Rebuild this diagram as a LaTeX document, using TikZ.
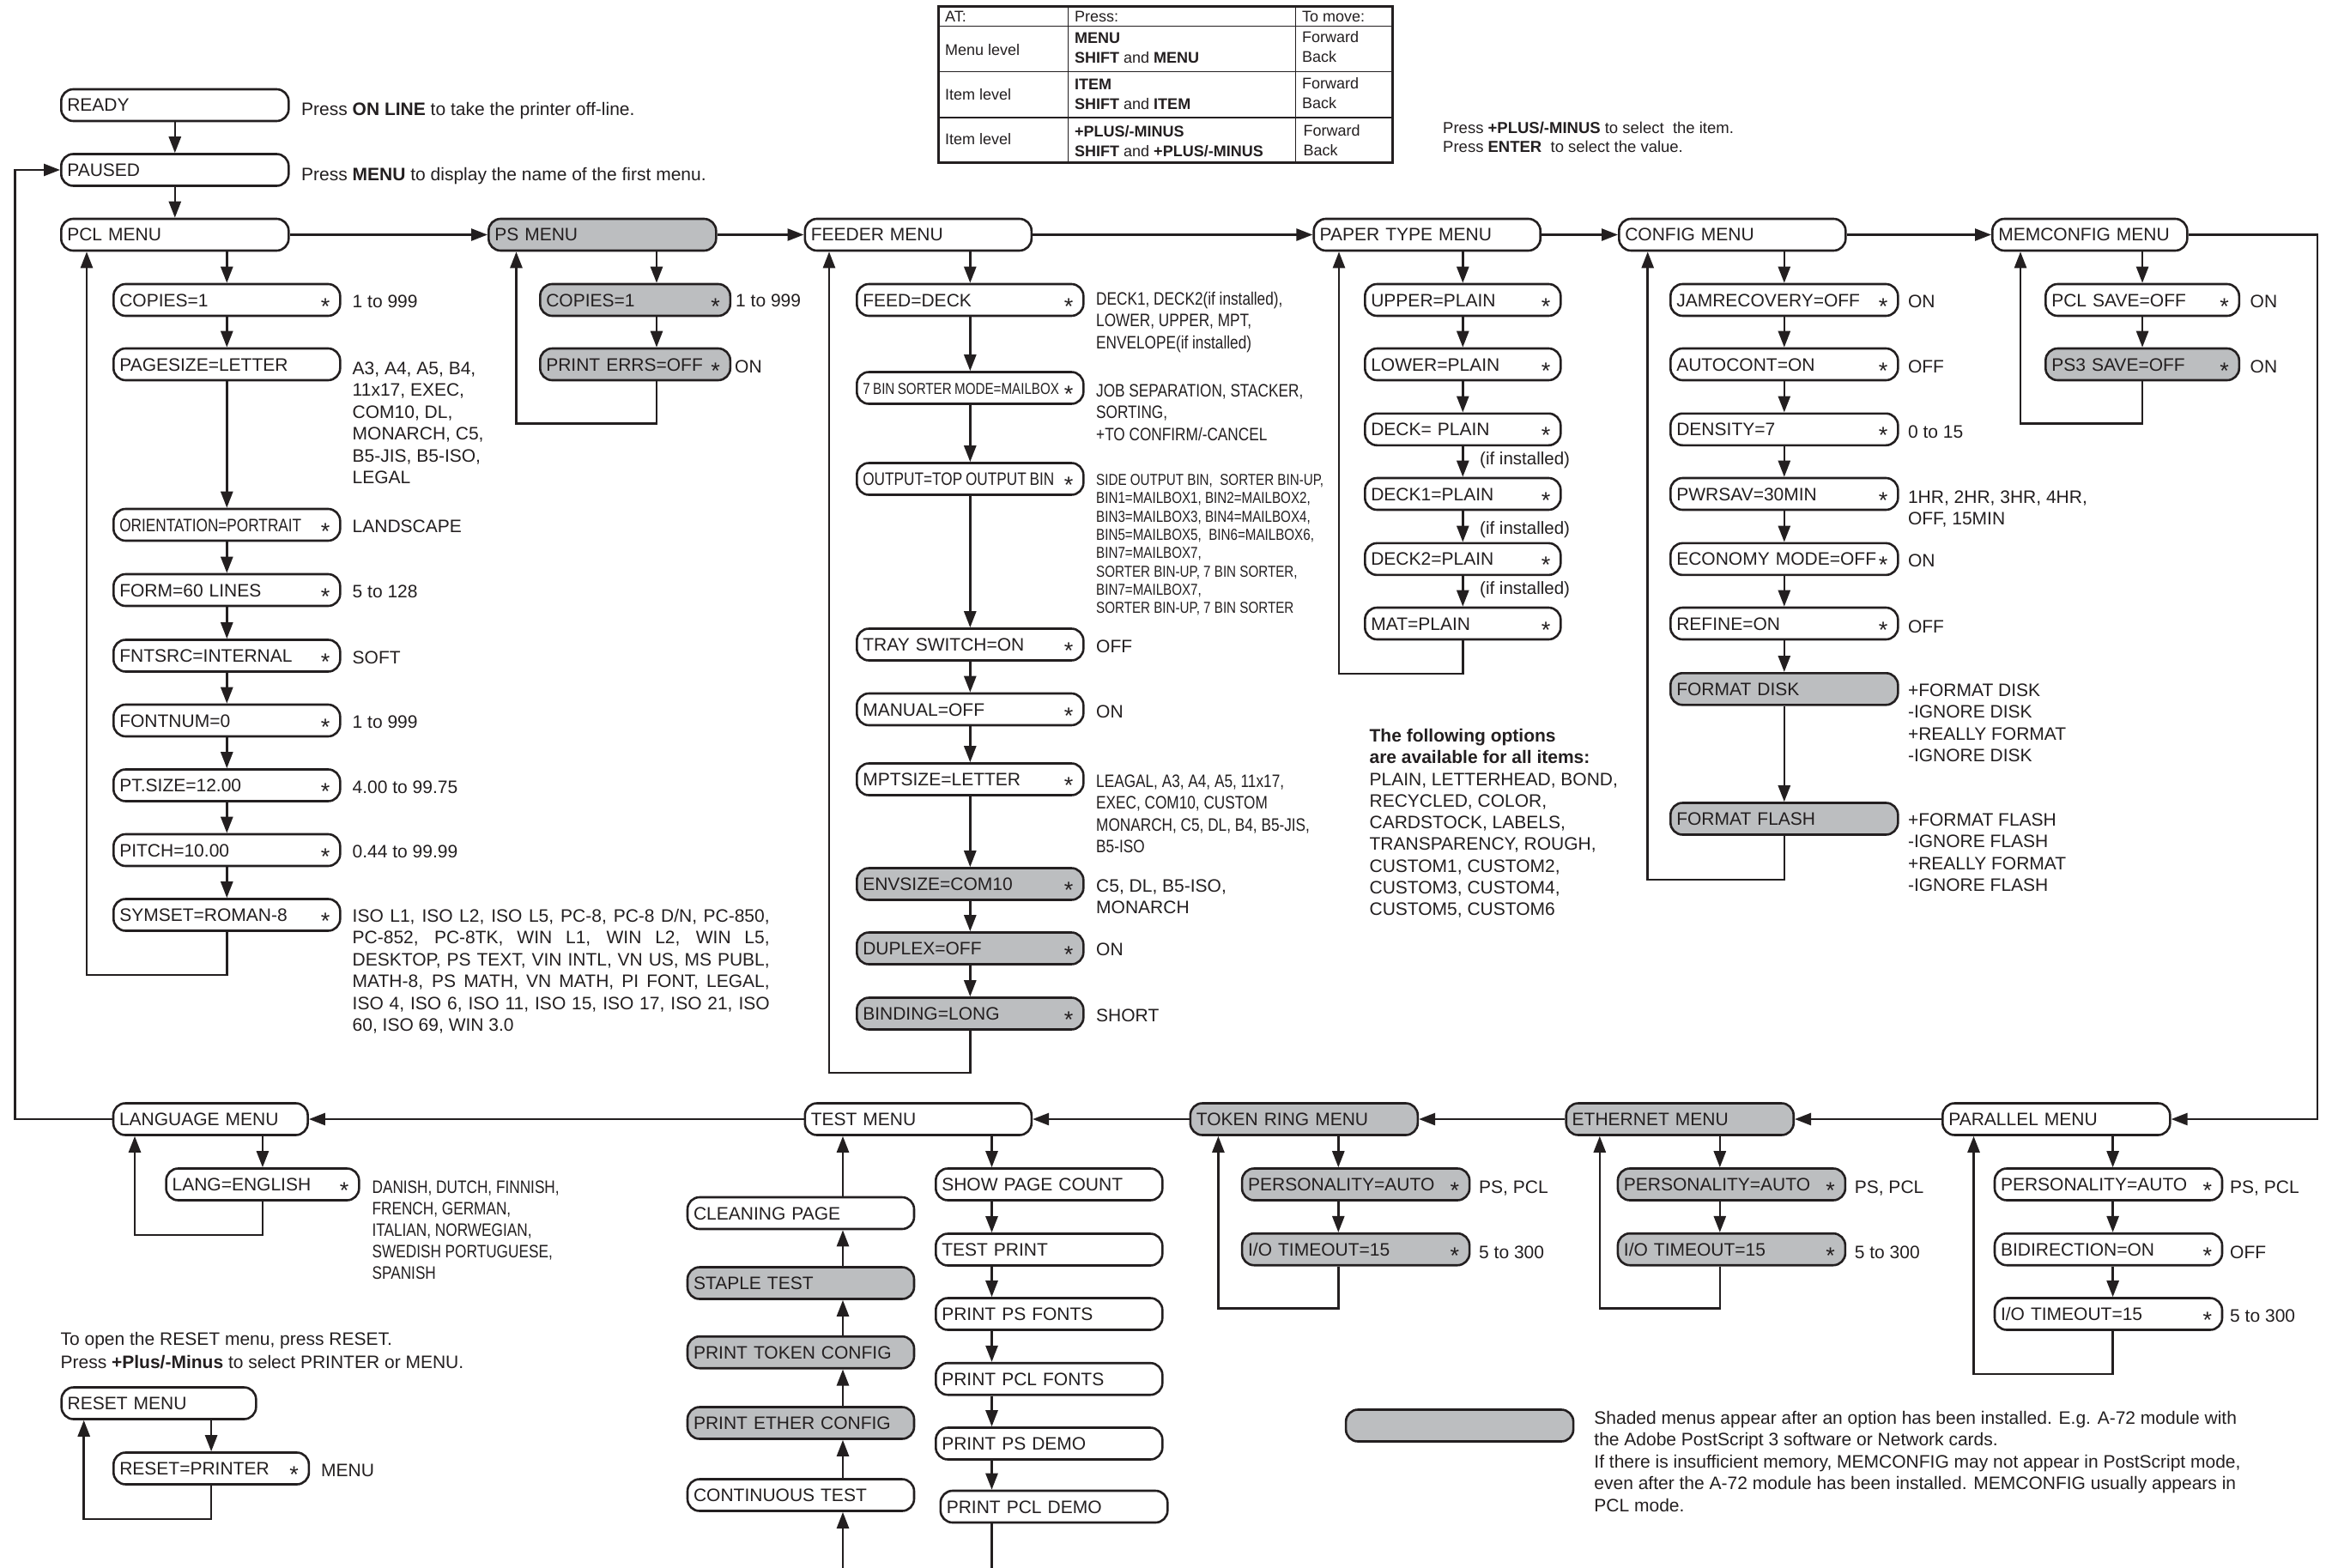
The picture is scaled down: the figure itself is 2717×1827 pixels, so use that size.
\documentclass[tikz,border=0pt]{standalone}
\usepackage{fontspec}
\setmainfont{Liberation Sans}
\newfontfamily\cond[FakeStretch=0.82]{Liberation Sans}
\usetikzlibrary{arrows.meta}
\definecolor{ink}{RGB}{35,31,32}
\definecolor{shade}{RGB}{188,190,192}
\newcommand\lab{\fontsize{21}{25.4}\selectfont}
\newcommand\wst[1]{\makebox[\linewidth][s]{#1\hfill\raisebox{-9pt}{\fontsize{27}{27}\selectfont *}\hspace{5pt}}}
\tikzset{
  mb/.style={draw=ink, line width=2.6pt, rounded corners=14pt, fill=white, anchor=west,
    minimum height=37pt, inner xsep=7pt, inner ysep=0pt, text height=15pt, text depth=0pt,
    align=left, text width=#1, font=\lab, text=ink},
  gb/.style={mb=#1, fill=shade},
  ln/.style={draw=ink, line width=2.6pt},
  arr/.style={ln, -{Triangle[length=19pt,width=14pt]}},
  dsc/.style={anchor=base west, inner sep=0pt, align=left, font=\lab, text=ink},
  cdsc/.style={dsc, font=\cond\lab},
  sdsc/.style={dsc, font=\cond\fontsize{18.5}{21.3}\selectfont},
  tdsc/.style={dsc, font=\fontsize{18}{23.5}\selectfont},
}
\begin{document}
\begin{tikzpicture}[x=1pt,y=-1pt]
\fill[white] (0,0) rectangle (2717,1827);
\useasboundingbox (0,0) rectangle (2717,1827);

% (multi-line text nodes are placed by the baseline of their LAST line)

% ---------- table ----------
\draw[draw=ink, line width=1.6pt] (1093,30.6) -- (1622.7,30.6)
  (1093,83.5) -- (1622.7,83.5) (1093,137) -- (1622.7,137)
  (1244.6,8) -- (1244.6,190) (1509.6,8) -- (1509.6,190);
\draw[draw=ink, line width=3pt] (1093,8) rectangle (1622.7,190);
\node[tdsc] (tat) at (1101,26) {AT:};
\node[tdsc] (tml) at (1101,64.4) {Menu level};
\node[tdsc] (til1) at (1101,116.4) {Item level};
\node[tdsc] (til2) at (1101,168.4) {Item level};
\node[tdsc] (tpress) at (1252,26) {Press:};
\node[tdsc] (tp1) at (1252,73.9) {\textbf{MENU}\\\textbf{SHIFT} and \textbf{MENU}};
\node[tdsc] (tp2) at (1252,127.9) {\textbf{ITEM}\\\textbf{SHIFT} and \textbf{ITEM}};
\node[tdsc] (tp3) at (1252,182.9) {\textbf{+PLUS/-MINUS}\\\textbf{SHIFT} and \textbf{+PLUS/-MINUS}};
\node[tdsc] (tmove) at (1517,26) {To move:};
\node[tdsc] (tm1) at (1517,72.9) {Forward\\Back};
\node[tdsc] (tm2) at (1517,126.9) {Forward\\Back};
\node[tdsc] (tm3) at (1518.5,181.9) {Forward\\Back};
\node[dsc, font=\fontsize{18.5}{21.6}\selectfont] (tplus) at (1681,177.2)
  {Press \textbf{+PLUS/-MINUS} to select\ \ the item.\\Press \textbf{ENTER}\ \ to select the value.};

% ---------- top row ----------
\node[mb=251pt] (ready) at (70,122.5) {READY};
\node[mb=251pt] (paused) at (70,198) {PAUSED};
\node[mb=251pt] (pcl) at (70,273.5) {PCL MENU};
\node[gb=251pt] (ps) at (568,273.5) {PS MENU};
\node[mb=250pt] (feeder) at (936.5,273.5) {FEEDER MENU};
\node[mb=250pt] (paper) at (1529.4,273.5) {PAPER TYPE MENU};
\node[mb=250pt] (config) at (1885,273.5) {CONFIG MENU};
\node[mb=213pt] (memconfig) at (2320,273.5) {MEMCONFIG MENU};
\node[dsc] (tready) at (351,135) {Press \textbf{ON LINE} to take the printer off-line.};
\node[dsc] (tpaused) at (351,210.5) {Press \textbf{MENU} to display the name of the first menu.};

% ---------- PCL ----------
\node[mb=250pt] (copies) at (131,349.5) {\wst{COPIES=1}};
\node[mb=250pt] (pagesize) at (131,424.5) {PAGESIZE=LETTER};
\node[mb=250pt] (orient) at (131,611.5) {\wst{{\cond ORIENTATION=PORTRAIT}}};
\node[mb=250pt] (form) at (131,687.5) {\wst{FORM=60 LINES}};
\node[mb=250pt] (fntsrc) at (131,764) {\wst{FNTSRC=INTERNAL}};
\node[mb=250pt] (fontnum) at (131,839.5) {\wst{FONTNUM=0}};
\node[mb=250pt] (ptsize) at (131,915) {\wst{PT.SIZE=12.00}};
\node[mb=250pt] (pitch) at (131,990.5) {\wst{PITCH=10.00}};
\node[mb=250pt] (symset) at (131,1066) {\wst{SYMSET=ROMAN-8}};
\node[dsc] (dcopies) at (410.5,358.5) {1 to 999};
\node[dsc] (dpagesize) at (410.5,563.5) {A3, A4, A5, B4,\\11x17, EXEC,\\COM10, DL,\\MONARCH, C5,\\B5-JIS, B5-ISO,\\LEGAL};
\node[dsc] (dorient) at (410.5,620) {LANDSCAPE};
\node[dsc] (dform) at (410.5,696.5) {5 to 128};
\node[dsc] (dfntsrc) at (410.5,773) {SOFT};
\node[dsc] (dfontnum) at (410.5,848.5) {1 to 999};
\node[dsc] (dptsize) at (410.5,924) {4.00 to 99.75};
\node[dsc] (dpitch) at (410.5,999.5) {0.44 to 99.99};
\node[dsc] (dsymset) at (410.5,1201.5) {%
\makebox[486pt][s]{ISO L1, ISO L2, ISO L5, PC-8, PC-8 D/N, PC-850,}\\
\makebox[486pt][s]{PC-852, PC-8TK, WIN L1, WIN L2, WIN L5,}\\
\makebox[486pt][s]{DESKTOP, PS TEXT, VIN INTL, VN US, MS PUBL,}\\
\makebox[486pt][s]{MATH-8, PS MATH, VN MATH, PI FONT, LEGAL,}\\
\makebox[486pt][s]{ISO 4, ISO 6, ISO 11, ISO 15, ISO 17, ISO 21, ISO}\\
60, ISO 69, WIN 3.0};

% ---------- PS ----------
\node[gb=207.5pt] (pscopies) at (628,349.5) {\wst{COPIES=1}};
\node[gb=207.5pt] (pserrs) at (628,424.5) {\wst{PRINT ERRS=OFF}};
\node[dsc] (dpscopies) at (857,357.5) {1 to 999};
\node[dsc] (dpserrs) at (856,434) {ON};

% ---------- FEEDER ----------
\node[mb=250pt] (feed) at (997,349.5) {\wst{FEED=DECK}};
\node[mb=250pt] (sorter) at (997,452) {\wst{{\cond\fontsize{18.5}{22}\selectfont\spaceskip=3.4pt\relax 7 BIN SORTER MODE=MAILBOX}}};
\node[mb=250pt] (output) at (997,558) {\wst{{\cond\spaceskip=3.8pt\relax OUTPUT=TOP OUTPUT BIN}}};
\node[mb=250pt] (tray) at (997,751) {\wst{TRAY SWITCH=ON}};
\node[mb=250pt] (manual) at (997,826.5) {\wst{MANUAL=OFF}};
\node[mb=250pt] (mpt) at (997,908) {\wst{MPTSIZE=LETTER}};
\node[gb=250pt] (env) at (997,1030) {\wst{ENVSIZE=COM10}};
\node[gb=250pt] (duplex) at (997,1105) {\wst{DUPLEX=OFF}};
\node[gb=250pt] (binding) at (997,1181) {\wst{BINDING=LONG}};
\node[cdsc] (dfeed) at (1277,406.3) {DECK1, DECK2(if installed),\\LOWER, UPPER, MPT,\\ENVELOPE(if installed)};
\node[cdsc] (dsorter) at (1277,513.3) {JOB SEPARATION, STACKER,\\SORTING,\\+TO CONFIRM/-CANCEL};
\node[sdsc] (doutput) at (1277,714.7) {SIDE OUTPUT BIN,\ \ SORTER BIN-UP,\\BIN1=MAILBOX1, BIN2=MAILBOX2,\\BIN3=MAILBOX3, BIN4=MAILBOX4,\\BIN5=MAILBOX5,\ \ BIN6=MAILBOX6,\\BIN7=MAILBOX7,\\SORTER BIN-UP, 7 BIN SORTER,\\BIN7=MAILBOX7,\\SORTER BIN-UP, 7 BIN SORTER};
\node[dsc] (dtray) at (1277,760.5) {OFF};
\node[dsc] (dmanual) at (1277,836.5) {ON};
\node[cdsc] (dmpt) at (1277,993.7) {LEAGAL, A3, A4, A5, 11x17,\\EXEC, COM10, CUSTOM\\MONARCH, C5, DL, B4, B5-JIS,\\B5-ISO};
\node[dsc] (denv) at (1277,1064.4) {C5, DL, B5-ISO,\\MONARCH};
\node[dsc] (dduplex) at (1277,1113.5) {ON};
\node[dsc] (dbinding) at (1277,1190) {SHORT};

% ---------- PAPER TYPE ----------
\node[mb=214pt] (upper) at (1589,349.5) {\wst{UPPER=PLAIN}};
\node[mb=214pt] (lower) at (1589,424.5) {\wst{LOWER=PLAIN}};
\node[mb=214pt] (deck) at (1589,500.3) {\wst{DECK= PLAIN}};
\node[mb=214pt] (deckone) at (1589,575.5) {\wst{DECK1=PLAIN}};
\node[mb=214pt] (decktwo) at (1589,651.4) {\wst{DECK2=PLAIN}};
\node[mb=214pt] (mat) at (1589,726.5) {\wst{MAT=PLAIN}};
\node[dsc, font=\fontsize{20.5}{24}\selectfont] (ifa) at (1724,541) {(if installed)};
\node[dsc, font=\fontsize{20.5}{24}\selectfont] (ifb) at (1724,622.5) {(if installed)};
\node[dsc, font=\fontsize{20.5}{24}\selectfont] (ifc) at (1724,692) {(if installed)};
\node[dsc, font=\fontsize{21}{25.25}\selectfont] (opts) at (1595.4,1066.5) {\textbf{The following options}\\\textbf{are available for all items:}\\PLAIN, LETTERHEAD, BOND,\\RECYCLED, COLOR,\\CARDSTOCK, LABELS,\\TRANSPARENCY, ROUGH,\\CUSTOM1, CUSTOM2,\\CUSTOM3, CUSTOM4,\\CUSTOM5, CUSTOM6};

% ---------- CONFIG ----------
\node[mb=251pt] (jam) at (1945,349.5) {\wst{JAMRECOVERY=OFF}};
\node[mb=251pt] (autocont) at (1945,424.5) {\wst{AUTOCONT=ON}};
\node[mb=251pt] (density) at (1945,500.3) {\wst{DENSITY=7}};
\node[mb=251pt] (pwrsav) at (1945,575.5) {\wst{PWRSAV=30MIN}};
\node[mb=251pt] (economy) at (1945,651.4) {\wst{ECONOMY MODE=OFF}};
\node[mb=251pt] (refine) at (1945,726.5) {\wst{REFINE=ON}};
\node[gb=251pt] (fdisk) at (1945,802.8) {FORMAT DISK};
\node[gb=251pt] (fflash) at (1945,954) {FORMAT FLASH};
\node[dsc] (djam) at (2222.8,358.5) {ON};
\node[dsc] (dauto) at (2222.8,434) {OFF};
\node[dsc] (ddensity) at (2222.8,510.5) {0 to 15};
\node[dsc] (dpwrsav) at (2222.8,611.4) {1HR, 2HR, 3HR, 4HR,\\OFF, 15MIN};
\node[dsc] (deconomy) at (2222.8,660.5) {ON};
\node[dsc] (drefine) at (2222.8,737) {OFF};
\node[dsc] (dfdisk) at (2222.8,887.7) {+FORMAT DISK\\-IGNORE DISK\\+REALLY FORMAT\\-IGNORE DISK};
\node[dsc] (dfflash) at (2222.8,1038.7) {+FORMAT FLASH\\-IGNORE FLASH\\+REALLY FORMAT\\-IGNORE FLASH};

% ---------- MEMCONFIG ----------
\node[mb=211.5pt] (pclsave) at (2382,349.5) {\wst{PCL SAVE=OFF}};
\node[gb=211.5pt] (ps3save) at (2382,424.5) {\wst{PS3 SAVE=OFF}};
\node[dsc] (dpclsave) at (2621.5,358.5) {ON};
\node[dsc] (dps3save) at (2621.5,434) {ON};

% ---------- bottom row ----------
\node[mb=212.6pt] (language) at (130.7,1304) {LANGUAGE MENU};
\node[mb=250pt] (test) at (936.5,1304) {TEST MENU};
\node[gb=251pt] (token) at (1385.5,1304) {TOKEN RING MENU};
\node[gb=251pt] (ethernet) at (1823.4,1304) {ETHERNET MENU};
\node[mb=251pt] (parallel) at (2262,1304) {PARALLEL MENU};

\node[mb=210.7pt] (langeng) at (192.3,1380) {\wst{LANG=ENGLISH}};
\node[dsc, font=\cond\fontsize{21}{25.1}\selectfont] (dlang) at (433.4,1490.9) {DANISH, DUTCH, FINNISH,\\FRENCH, GERMAN,\\ITALIAN, NORWEGIAN,\\SWEDISH PORTUGUESE,\\SPANISH};

\node[mb=250pt] (cleaning) at (799.7,1413.5) {CLEANING PAGE};
\node[gb=250pt] (staple) at (799.7,1495) {STAPLE TEST};
\node[gb=250pt] (ptoken) at (799.7,1575.7) {PRINT TOKEN CONFIG};
\node[gb=250pt] (pether) at (799.7,1658) {PRINT ETHER CONFIG};
\node[mb=250pt] (contin) at (799.7,1742) {CONTINUOUS TEST};
\node[mb=250pt] (spc) at (1089,1380) {SHOW PAGE COUNT};
\node[mb=250pt] (tprint) at (1089,1456) {TEST PRINT};
\node[mb=250pt] (psfonts) at (1089,1531) {PRINT PS FONTS};
\node[mb=250pt] (pclfonts) at (1089,1606.7) {PRINT PCL FONTS};
\node[mb=250pt] (psdemo) at (1089,1682) {PRINT PS DEMO};
\node[mb=250.5pt] (pcldemo) at (1094.5,1755.5) {PRINT PCL DEMO};

\node[gb=251pt] (tpers) at (1445.8,1380) {\wst{PERSONALITY=AUTO}};
\node[gb=251pt] (tio) at (1445.8,1455.7) {\wst{I/O TIMEOUT=15}};
\node[dsc] (dtpers) at (1723,1390.5) {PS, PCL};
\node[dsc] (dtio) at (1723,1466.5) {5 to 300};

\node[gb=251pt] (epers) at (1883.6,1380) {\wst{PERSONALITY=AUTO}};
\node[gb=251pt] (eio) at (1883.6,1455.7) {\wst{I/O TIMEOUT=15}};
\node[dsc] (depers) at (2160.6,1390.5) {PS, PCL};
\node[dsc] (deio) at (2160.6,1466.5) {5 to 300};

\node[mb=251pt] (ppers) at (2322.7,1380) {\wst{PERSONALITY=AUTO}};
\node[mb=251pt] (pbidi) at (2322.7,1455.7) {\wst{BIDIRECTION=ON}};
\node[mb=251pt] (pio) at (2322.7,1531) {\wst{I/O TIMEOUT=15}};
\node[dsc] (dppers) at (2598,1390.5) {PS, PCL};
\node[dsc] (dpbidi) at (2598,1466.5) {OFF};
\node[dsc] (dpio) at (2598,1540.5) {5 to 300};

% ---------- reset ----------
\node[dsc, font=\fontsize{21}{26.6}\selectfont] (treset) at (70.4,1594.1) {To open the RESET menu, press RESET.\\Press \textbf{+Plus/-Minus} to select PRINTER or MENU.};
\node[mb=212.6pt] (resetmenu) at (70.4,1635) {RESET MENU};
\node[mb=213.6pt] (resetp) at (131,1711) {\wst{RESET=PRINTER}};
\node[dsc] (dresetp) at (374,1720) {MENU};

% ---------- legend ----------
\node[gb=251pt] (legend) at (1566.8,1661) {};
\node[dsc] (tlegend) at (1857.2,1761.1) {Shaded menus appear after an option has been installed. E.g. A-72 module with\\the Adobe PostScript 3 software or Network cards.\\If there is insufficient memory, MEMCONFIG may not appear in PostScript mode,\\even after the A-72 module has been installed. MEMCONFIG usually appears in\\PCL mode.};

% ================= connectors =================
\draw[arr] (ready) -- (paused);
\draw[arr] (paused) -- (pcl);
\draw[arr] (pcl) -- (ps);
\draw[arr] (ps) -- (feeder);
\draw[arr] (feeder) -- (paper);
\draw[arr] (paper) -- (config);
\draw[arr] (config) -- (memconfig);
\draw[arr] (memconfig.east) -- (memconfig.east -| 2700,0) |- (parallel.east);
\draw[arr] (parallel) -- (ethernet);
\draw[arr] (ethernet) -- (token);
\draw[arr] (token) -- (test);
\draw[arr] (test) -- (language);
\draw[arr] (language.west) -- (language.west -| 17.6,0) |- (paused.west);

% PCL
\draw[arr] (copies.north |- pcl.south) -- (copies.north);
\draw[arr] (copies) -- (pagesize);
\draw[arr] (pagesize) -- (orient);
\draw[arr] (orient) -- (form);
\draw[arr] (form) -- (fntsrc);
\draw[arr] (fntsrc) -- (fontnum);
\draw[arr] (fontnum) -- (ptsize);
\draw[arr] (ptsize) -- (pitch);
\draw[arr] (pitch) -- (symset);
\draw[arr] (symset.south) -- ++(0,50) -| (pcl.south -| 101,0);

% PS
\draw[arr] (ps.south -| 765,0) -- (pscopies.north -| 765,0);
\draw[arr] (pscopies.south -| 765,0) -- (pserrs.north -| 765,0);
\draw[arr] (pserrs.south -| 765,0) -- ++(0,49) -| (ps.south -| 601.5,0);

% FEEDER
\draw[arr] (feed.north |- feeder.south) -- (feed.north);
\draw[arr] (feed) -- (sorter);
\draw[arr] (sorter) -- (output);
\draw[arr] (output) -- (tray);
\draw[arr] (tray) -- (manual);
\draw[arr] (manual) -- (mpt);
\draw[arr] (mpt) -- (env);
\draw[arr] (env) -- (duplex);
\draw[arr] (duplex) -- (binding);
\draw[arr] (binding.south) -- ++(0,49) -| (feeder.south -| 966,0);

% PAPER
\draw[arr] (upper.north |- paper.south) -- (upper.north);
\draw[arr] (upper) -- (lower);
\draw[arr] (lower) -- (deck);
\draw[arr] (deck) -- (deckone);
\draw[arr] (deckone) -- (decktwo);
\draw[arr] (decktwo) -- (mat);
\draw[arr] (mat.south) -- ++(0,38.5) -| (paper.south -| 1560,0);

% CONFIG
\draw[arr] (jam.north |- config.south) -- (jam.north);
\draw[arr] (jam) -- (autocont);
\draw[arr] (autocont) -- (density);
\draw[arr] (density) -- (pwrsav);
\draw[arr] (pwrsav) -- (economy);
\draw[arr] (economy) -- (refine);
\draw[arr] (refine) -- (fdisk);
\draw[arr] (fdisk) -- (fflash);
\draw[arr] (fflash.south) -- ++(0,51) -| (config.south -| 1919.7,0);

% MEMCONFIG
\draw[arr] (pclsave.north |- memconfig.south) -- (pclsave.north);
\draw[arr] (pclsave) -- (ps3save);
\draw[arr] (ps3save.south) -- ++(0,49) -| (memconfig.south -| 2354,0);

% LANGUAGE
\draw[arr] (langeng.north |- language.south) -- (langeng.north);
\draw[arr] (langeng.south) -- ++(0,39) -| (language.south -| 157,0);

% TEST
\coordinate (botL) at (982,1827);
\coordinate (botR) at (1155.5,1827);
\draw[arr] (botL) -- (contin.south -| botL);
\draw[arr] (contin.north -| botL) -- (pether.south -| botL);
\draw[arr] (pether.north -| botL) -- (ptoken.south -| botL);
\draw[arr] (ptoken.north -| botL) -- (staple.south -| botL);
\draw[arr] (staple.north -| botL) -- (cleaning.south -| botL);
\draw[arr] (cleaning.north -| botL) -- (test.south -| botL);
\draw[arr] (test.south -| botR) -- (spc.north -| botR);
\draw[arr] (spc.south -| botR) -- (tprint.north -| botR);
\draw[arr] (tprint.south -| botR) -- (psfonts.north -| botR);
\draw[arr] (psfonts.south -| botR) -- (pclfonts.north -| botR);
\draw[arr] (pclfonts.south -| botR) -- (psdemo.north -| botR);
\draw[arr] (psdemo.south -| botR) -- (pcldemo.north -| botR);
\draw[ln] (pcldemo.south -| botR) -- (botR);

% TOKEN RING
\draw[arr] (token.south -| 1559.3,0) -- (tpers.north -| 1559.3,0);
\draw[arr] (tpers.south -| 1559.3,0) -- (tio.north -| 1559.3,0);
\draw[arr] (tio.south -| 1559.3,0) -- ++(0,49) -| (token.south -| 1419.4,0);

% ETHERNET
\draw[arr] (ethernet.south -| 2003.8,0) -- (epers.north -| 2003.8,0);
\draw[arr] (epers.south -| 2003.8,0) -- (eio.north -| 2003.8,0);
\draw[arr] (eio.south -| 2003.8,0) -- ++(0,49) -| (ethernet.south -| 1863.8,0);

% PARALLEL
\draw[arr] (parallel.south -| 2461.6,0) -- (ppers.north -| 2461.6,0);
\draw[arr] (ppers.south -| 2461.6,0) -- (pbidi.north -| 2461.6,0);
\draw[arr] (pbidi.south -| 2461.6,0) -- (pio.north -| 2461.6,0);
\draw[arr] (pio.south -| 2461.6,0) -- ++(0,50) -| (parallel.south -| 2299.5,0);

% RESET
\draw[arr] (resetp.north |- resetmenu.south) -- (resetp.north);
\draw[arr] (resetp.south) -- ++(0,39) -| (resetmenu.south -| 97.7,0);
\end{tikzpicture}
\end{document}
